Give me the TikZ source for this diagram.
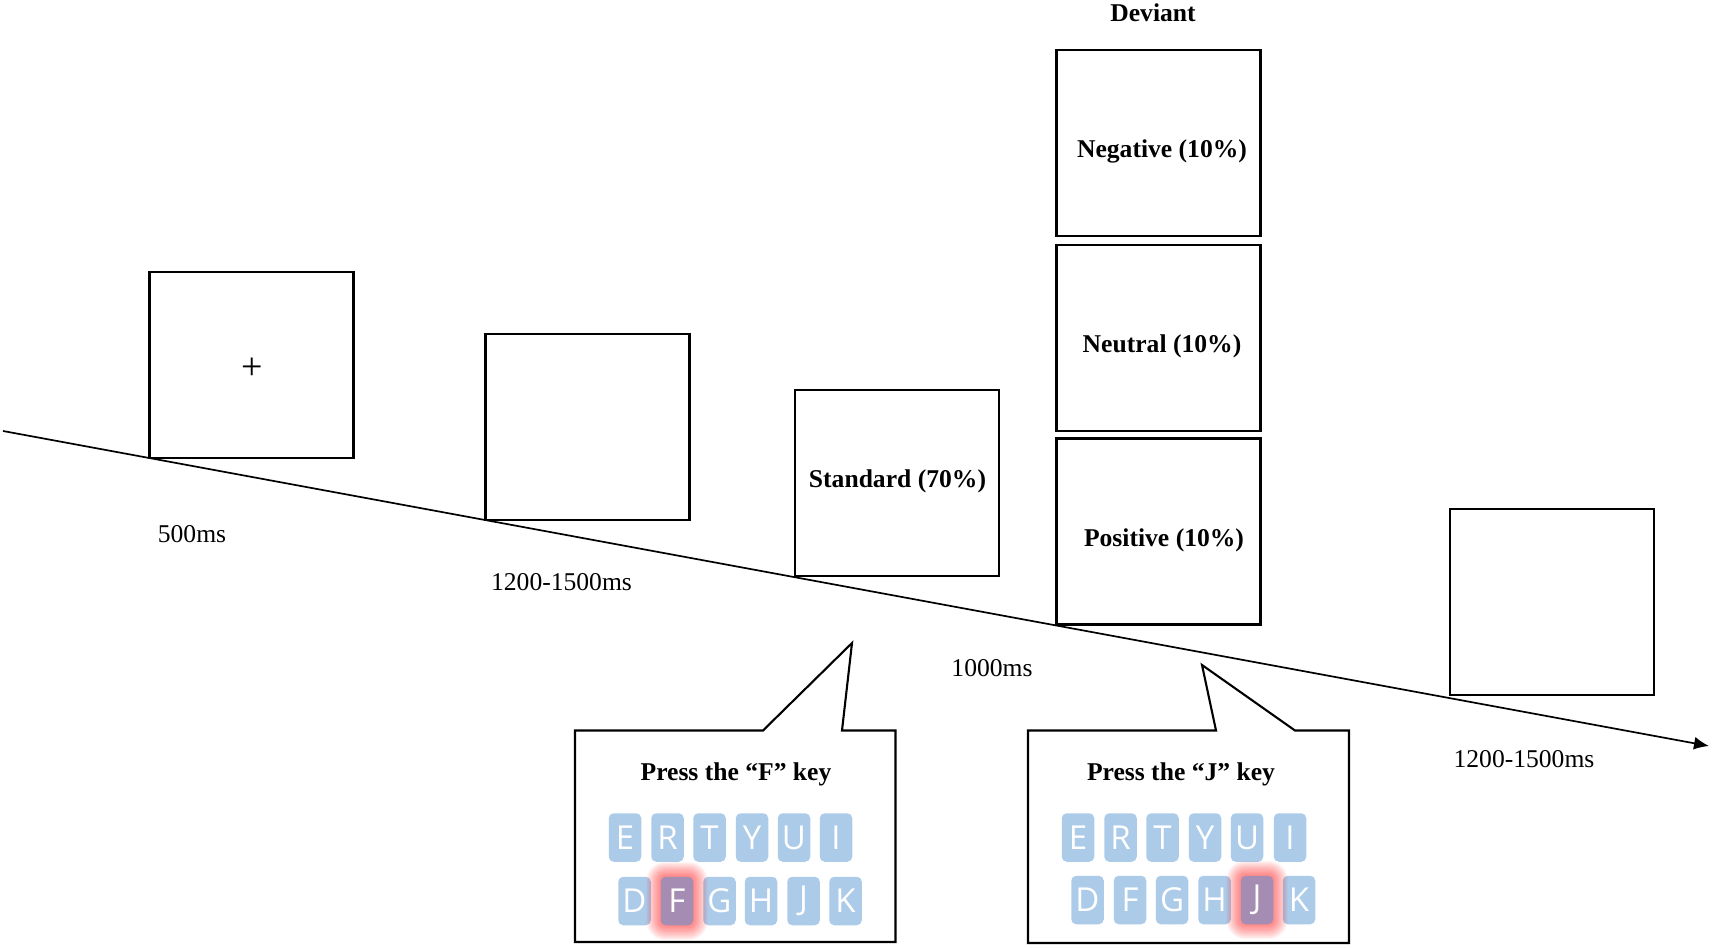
\documentclass[tikz,border=0pt]{standalone}
\usepackage{fontspec}
\setmainfont{Liberation Serif}
\newfontfamily\keyfont{Open Sans}
\definecolor{keyblue}{HTML}{ABCBE9}
\definecolor{keypurple}{HTML}{A58CB2}
\tikzset{
  screen/.style={draw=black,line width=2.1pt,fill=white,minimum width=204pt,minimum height=186pt,inner sep=0pt},
  timing/.style={inner sep=0pt,font=\fontsize{25.6}{30}\selectfont},
  title/.style={inner sep=0pt,font=\fontsize{25.6}{30}\selectfont\bfseries},
  callout/.style={draw=black,line width=2.1pt,fill=white,line join=miter},
  keycap/.style={fill=keyblue,rounded corners=5pt,minimum width=32.5pt,minimum height=48.5pt,inner sep=0pt,text=white,font=\fontsize{33}{36}\selectfont\keyfont},
  hotkey/.style={keycap,fill=keypurple},
  glow/.style={fill=red,fill opacity=0.038,draw=none},
  axisline/.style={draw=black,line width=1.7pt,-{Latex[length=15pt,width=13pt]}}
}
\usetikzlibrary{arrows.meta}
\begin{document}
\begin{tikzpicture}[x=1pt,y=-1pt]
\useasboundingbox (0,0) rectangle (1712,947);
% time axis
\coordinate (axisstart) at (3,431);
\coordinate (axisend) at (1709,746);
\draw[axisline] (axisstart) -- (axisend);
% screens
\node[screen] (fix) at (251.5,365) {};
\node[inner sep=0pt,font=\fontsize{38}{40}\selectfont] (plus) at (252,369) {+};
\node[screen] (blank) at (587.5,427) {};
\node[screen] (std) at (897,483) {};
\node[screen] (neg) at (1158.5,143) {};
\node[screen] (neu) at (1158.5,338) {};
\node[screen] (pos) at (1158.5,531.5) {};
\node[screen] (last) at (1552,602) {};
\node[title] (stdt) at (897.5,481) {Standard (70\%)};
\node[title] (negt) at (1162,151.5) {Negative (10\%)};
\node[title] (neut) at (1162,346.5) {Neutral (10\%)};
\node[title] (post) at (1164,540) {Positive (10\%)};
\node[title] (dev) at (1153,13) {Deviant};
% timings
\node[timing] (t1) at (192,534) {500ms};
\node[timing] (t2) at (561.5,582) {1200-1500ms};
\node[timing] (t3) at (992,668) {1000ms};
\node[timing] (t4) at (1524,759) {1200-1500ms};
% callouts
\path[callout] (575,730.5) -- (763,730.5) -- (852,643) -- (842,730.5) -- (895.5,730.5) -- (895.5,942) -- (575,942) -- cycle;
\path[callout] (1028,730.5) -- (1216,730.5) -- (1202,665) -- (1295,730.5) -- (1349,730.5) -- (1349,943) -- (1028,943) -- cycle;
\node[title] (pf) at (736,774.5) {Press the “F” key};
\node[title] (pj) at (1181,774.5) {Press the “J” key};
% left keyboard
\foreach \l/\x in {E/625,R/667.5,T/709.5,Y/752,U/794,I/836}
  \node[keycap] (a\l) at (\x,837.5) {\l};
\foreach \l/\x in {D/634.5,G/719.5,H/761,J/803.5,K/845.5}
  \node[keycap] (a\l) at (\x,901) {\l};
\foreach \g in {1,...,14}
  \fill[glow,rounded corners=5pt+\g*1pt] (677-16-\g*1.05,901-24.5-\g*1.05) rectangle (677+16+\g*1.05,901+24.5+\g*1.05);
\node[hotkey] (aF) at (677,901) {F};
% right keyboard
\foreach \l/\x in {E/1078,R/1120.5,T/1162.5,Y/1205,U/1247,I/1290}
  \node[keycap] (b\l) at (\x,837.5) {\l};
\foreach \l/\x in {D/1087.5,F/1130,G/1172,H/1214.5,K/1299}
  \node[keycap] (b\l) at (\x,900) {\l};
\foreach \g in {1,...,14}
  \fill[glow,rounded corners=5pt+\g*1pt] (1257-16-\g*1.05,900-24.5-\g*1.05) rectangle (1257+16+\g*1.05,900+24.5+\g*1.05);
\node[hotkey] (bJ) at (1257,900) {J};
\end{tikzpicture}
\end{document}
